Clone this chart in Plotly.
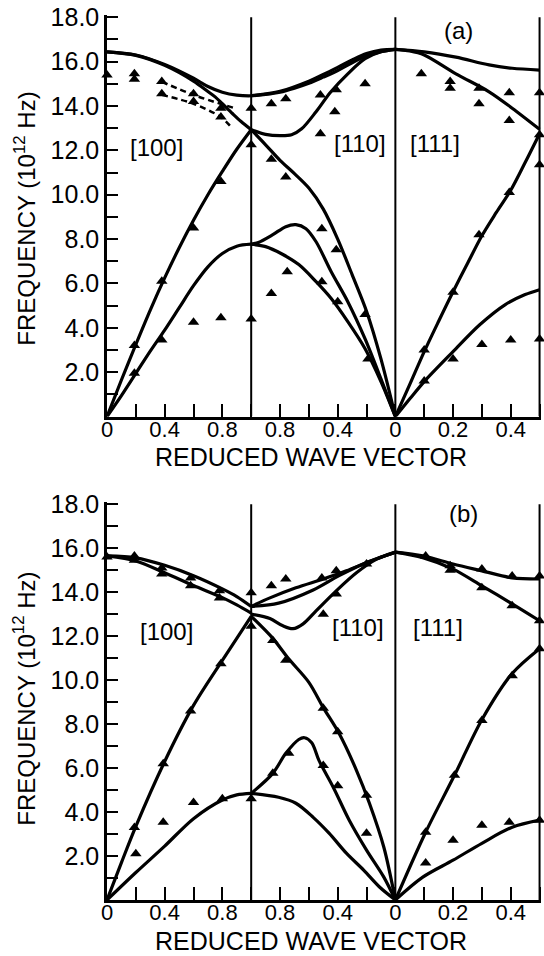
import plotly.graph_objects as go

# Path coordinate along the x axis:
#   0..1 : [100]  (reduced q = x)
#   1..2 : [110]  (reduced q = 2 - x)
#   2..3 : [111]  (reduced q = (x - 2) / 2)

# ---------------- panel (a) : calculated curves ----------------
a_to_x = [0, 0.2, 0.4, 0.6, 0.7, 0.8, 0.9, 1.0, 1.1, 1.2, 1.3, 1.4, 1.5, 1.6, 1.7, 1.8, 1.9, 2.0]
a_to_y = [16.44, 16.3, 15.87, 15.25, 14.88, 14.62, 14.49, 14.46, 14.52, 14.62, 14.8, 15.02, 15.3, 15.6, 15.95, 16.25, 16.45, 16.55]
a_to2_x = [1.0, 1.2, 1.4, 1.5, 1.6, 1.7, 1.8, 1.9, 2.0]
a_to2_y = [14.46, 14.66, 15.12, 15.42, 15.74, 16.07, 16.36, 16.52, 16.55]
a_lo100_x = [0, 0.2, 0.4, 0.6, 0.7, 0.75, 0.8, 0.87, 0.93, 1.0]
a_lo100_y = [16.44, 16.28, 15.83, 15.12, 14.65, 14.41, 14.1, 13.66, 13.3, 12.93]
a_lo110_x = [1.0, 1.1, 1.2, 1.28, 1.35, 1.45, 1.55, 1.67, 1.79, 1.9, 2.0]
a_lo110_y = [12.93, 12.72, 12.66, 12.7, 12.97, 13.74, 14.62, 15.45, 16.13, 16.44, 16.55]
a_la100_x = [0, 0.1, 0.2, 0.3, 0.4, 0.5, 0.6, 0.7, 0.8, 0.9, 1.0]
a_la100_y = [0, 1.65, 3.25, 4.8, 6.25, 7.6, 8.85, 10.0, 11.05, 12.05, 12.93]
a_la110_x = [1.0, 1.1, 1.2, 1.3, 1.4, 1.5, 1.6, 1.7, 1.8, 1.9, 2.0]
a_la110_y = [12.93, 12.25, 11.55, 10.95, 10.3, 9.35, 8.0, 6.4, 4.75, 2.6, 0]
a_ta100_x = [0, 0.1, 0.2, 0.3, 0.4, 0.5, 0.6, 0.7, 0.8, 0.9, 1.0]
a_ta100_y = [0, 0.95, 1.95, 2.95, 3.9, 4.9, 5.9, 6.75, 7.35, 7.68, 7.77]
a_ta2_x = [1.0, 1.05, 1.15, 1.24, 1.31, 1.38, 1.45, 1.555, 1.67, 1.79, 1.9, 2.0]
a_ta2_y = [7.77, 7.85, 8.2, 8.56, 8.65, 8.47, 7.88, 6.53, 5.18, 3.5, 1.7, 0]
a_ta1_x = [1.0, 1.1, 1.21, 1.33, 1.45, 1.555, 1.67, 1.79, 1.9, 2.0]
a_ta1_y = [7.77, 7.66, 7.34, 6.85, 6.08, 5.32, 4.28, 3.06, 1.58, 0]
a_to111_x = [2.0, 2.2, 2.42, 2.65, 2.81, 3.0]
a_to111_y = [16.55, 16.44, 16.2, 15.85, 15.7, 15.62]
a_lo111_x = [2.0, 2.1, 2.2, 2.42, 2.65, 2.81, 3.0]
a_lo111_y = [16.55, 16.48, 16.3, 15.45, 14.64, 13.9, 12.95]
a_la111_x = [2.0, 2.1, 2.2, 2.3, 2.4, 2.5, 2.6, 2.7, 2.8, 2.9, 3.0]
a_la111_y = [0, 1.45, 2.93, 4.3, 5.63, 6.9, 8.15, 9.2, 10.2, 11.45, 12.75]
a_ta111_x = [2.0, 2.1, 2.2, 2.4, 2.585, 2.76, 2.9, 3.0]
a_ta111_y = [0, 0.8, 1.58, 2.93, 4.14, 5.04, 5.5, 5.72]
# dashed lines
a_dash1_x = [0.38, 0.6, 0.9]
a_dash1_y = [15.09, 14.5, 13.87]
a_dash2_x = [0.38, 0.6, 0.79, 0.86]
a_dash2_y = [14.5, 14.1, 13.5, 13.06]

# ---------------- panel (a) : measured points ----------------
a_pts_x = [0, 0.19, 0.19, 0.38, 0.38, 0.6, 0.6, 0.79, 0.79, 1.0, 1.0,
           0.19, 0.38, 0.6, 0.79, 0.19, 0.38, 0.6, 0.79, 1.0,
           1.14, 1.24, 1.48, 1.58, 1.59, 1.79, 1.48, 1.14, 1.24,
           1.14, 1.25, 1.49, 1.59, 1.49, 1.6, 1.79, 1.81,
           2.18, 2.38, 2.38, 2.58, 2.58, 2.79, 2.79, 3.0, 3.0, 3.0,
           2.79, 2.58, 2.4, 2.2, 2.2, 2.4, 2.6, 2.8, 3.0]
a_pts_y = [15.4, 15.45, 15.2, 15.1, 14.55, 14.55, 14.2, 13.9, 13.5, 13.9, 12.25,
           3.2, 6.1, 8.5, 10.6, 1.95, 3.45, 4.25, 4.45, 4.4,
           14.1, 14.32, 14.5, 13.74, 14.73, 15.0, 12.75, 11.6, 10.8,
           5.55, 6.53, 8.47, 7.52, 6.08, 5.18, 4.6, 2.6,
           15.45, 15.1, 14.8, 14.8, 14.1, 14.6, 13.35, 14.6, 12.7, 11.35,
           10.1, 8.2, 5.6, 3.0, 1.6, 2.6, 3.25, 3.45, 3.5]

# ---------------- panel (b) : calculated curves ----------------
b_to100_x = [0, 0.2, 0.4, 0.6, 0.8, 0.9, 1.0]
b_to100_y = [15.65, 15.56, 15.22, 14.75, 14.15, 13.8, 13.35]
b_lo100_x = [0, 0.2, 0.4, 0.6, 0.8, 0.9, 1.0]
b_lo100_y = [15.65, 15.42, 14.88, 14.3, 13.75, 13.42, 13.05]
b_la100_x = [0, 0.1, 0.2, 0.4, 0.6, 0.8, 1.0]
b_la100_y = [0, 1.7, 3.35, 6.3, 8.85, 10.9, 12.9]
b_ta100_x = [0, 0.2, 0.4, 0.6, 0.8, 0.9, 1.0]
b_ta100_y = [0, 1.25, 2.45, 3.7, 4.55, 4.78, 4.85]
b_to110a_x = [1.0, 1.13, 1.31, 1.5, 1.66, 1.82, 2.0]
b_to110a_y = [13.35, 13.74, 14.2, 14.6, 14.97, 15.4, 15.82]
b_to110b_x = [1.0, 1.19, 1.43, 1.61, 1.8, 2.0]
b_to110b_y = [13.35, 13.5, 14.1, 14.75, 15.35, 15.82]
b_lo110_x = [1.0, 1.13, 1.22, 1.29, 1.36, 1.45, 1.59, 1.73, 1.87, 2.0]
b_lo110_y = [13.0, 12.8, 12.47, 12.34, 12.56, 13.15, 14.06, 14.88, 15.5, 15.82]
b_la110_x = [1.0, 1.15, 1.26, 1.4, 1.5, 1.61, 1.73, 1.82, 1.92, 2.0]
b_la110_y = [12.9, 11.9, 10.97, 9.9, 8.75, 7.57, 5.9, 4.4, 2.4, 0]
b_ta2_x = [1.0, 1.15, 1.24, 1.33, 1.37, 1.42, 1.47, 1.57, 1.68, 1.8, 1.92, 2.0]
b_ta2_y = [4.85, 5.76, 6.67, 7.3, 7.38, 7.15, 6.35, 5.12, 3.63, 2.27, 1.04, 0]
b_ta1_x = [1.0, 1.19, 1.31, 1.43, 1.54, 1.66, 1.78, 1.89, 2.0]
b_ta1_y = [4.85, 4.67, 4.4, 3.76, 3.04, 2.13, 1.36, 0.59, 0]
b_to111_x = [2.0, 2.19, 2.4, 2.6, 2.81, 3.0]
b_to111_y = [15.82, 15.65, 15.28, 14.97, 14.65, 14.6]
b_lo111_x = [2.0, 2.19, 2.4, 2.6, 2.81, 3.0]
b_lo111_y = [15.82, 15.57, 15.05, 14.29, 13.47, 12.7]
b_la111_x = [2.0, 2.21, 2.41, 2.6, 2.81, 3.0]
b_la111_y = [0, 3.08, 5.67, 8.2, 10.3, 11.43]
b_ta111_x = [2.0, 2.19, 2.4, 2.6, 2.81, 3.0]
b_ta111_y = [0, 1.04, 1.81, 2.58, 3.31, 3.63]

# ---------------- panel (b) : measured points ----------------
b_pts_x = [0, 0.19, 0.19, 0.38, 0.38, 0.58, 0.58, 0.78, 0.78, 1.0, 1.0,
           0.19, 0.39, 0.58, 0.79, 0.2, 0.39, 0.6, 0.8, 1.0,
           1.14, 1.24, 1.49, 1.59, 1.8, 1.59, 1.5, 1.15, 1.24, 1.5, 1.6,
           1.15, 1.26, 1.5, 1.6, 1.8, 1.8,
           2.21, 2.38, 2.38, 2.6, 2.6, 2.81, 2.81, 3.0, 3.0, 3.0,
           2.81, 2.6, 2.41, 2.21, 2.21, 2.4, 2.6, 2.79, 3.0]
b_pts_y = [15.6, 15.65, 15.45, 15.1, 14.83, 14.65, 14.29, 14.06, 13.74, 13.97, 12.45,
           3.3, 6.2, 8.6, 10.75, 2.1, 3.54, 4.43, 4.6, 4.6,
           14.29, 14.6, 14.65, 14.97, 15.28, 13.92, 13.0, 11.8, 10.9, 8.72, 7.65,
           5.76, 6.67, 6.12, 5.2, 4.76, 3.04,
           15.65, 15.2, 15.0, 15.05, 14.2, 14.74, 13.38, 14.74, 12.7, 11.43,
           10.2, 8.16, 5.67, 3.08, 1.68, 2.72, 3.4, 3.54, 3.63]

# ---------------- axes text ----------------
x_tickvals = [0.0, 0.4, 0.8, 1.2, 1.6, 2.0, 2.4, 2.8]
x_ticktext = ["0", "0.4", "0.8", "0.8", "0.4", "0", "0.2", "0.4"]
y_tickvals = [2, 4, 6, 8, 10, 12, 14, 16, 18]
y_ticktext = [f"{v:.1f}" for v in y_tickvals]
dir_labels = ["[100]", "[110]", "[111]"]

FONT = "Liberation Sans"
fig = go.Figure()

def curve(xs, ys, xa, ya, dash="solid", width=3.2):
    fig.add_trace(go.Scatter(x=xs, y=ys, mode="lines", xaxis=xa, yaxis=ya,
                             line=dict(color="black", width=width, dash=dash,
                                       shape="spline", smoothing=0.9),
                             showlegend=False, hoverinfo="skip"))

def points(xs, ys, xa, ya):
    fig.add_trace(go.Scatter(x=xs, y=ys, mode="markers", xaxis=xa, yaxis=ya,
                             marker=dict(symbol="triangle-up", size=10, color="black"),
                             cliponaxis=False, showlegend=False, hoverinfo="skip"))

for xs, ys in [(a_to_x, a_to_y), (a_to2_x, a_to2_y), (a_lo100_x, a_lo100_y),
               (a_lo110_x, a_lo110_y), (a_la100_x, a_la100_y), (a_la110_x, a_la110_y),
               (a_ta100_x, a_ta100_y), (a_ta2_x, a_ta2_y), (a_ta1_x, a_ta1_y),
               (a_to111_x, a_to111_y), (a_lo111_x, a_lo111_y), (a_la111_x, a_la111_y),
               (a_ta111_x, a_ta111_y)]:
    curve(xs, ys, "x", "y")
curve(a_dash1_x, a_dash1_y, "x", "y", dash="6px,4px", width=2.5)
curve(a_dash2_x, a_dash2_y, "x", "y", dash="6px,4px", width=2.5)
points(a_pts_x, a_pts_y, "x", "y")

for xs, ys in [(b_to100_x, b_to100_y), (b_lo100_x, b_lo100_y), (b_la100_x, b_la100_y),
               (b_ta100_x, b_ta100_y), (b_to110a_x, b_to110a_y), (b_to110b_x, b_to110b_y),
               (b_lo110_x, b_lo110_y), (b_la110_x, b_la110_y), (b_ta2_x, b_ta2_y),
               (b_ta1_x, b_ta1_y), (b_to111_x, b_to111_y), (b_lo111_x, b_lo111_y),
               (b_la111_x, b_la111_y), (b_ta111_x, b_ta111_y)]:
    curve(xs, ys, "x2", "y2")
points(b_pts_x, b_pts_y, "x2", "y2")

# vertical boundary lines (X, Gamma, L)
for xr, yr in [("x", "y"), ("x2", "y2")]:
    for xv in [1, 2, 3]:
        fig.add_shape(type="line", xref=xr, yref=yr, x0=xv, x1=xv, y0=0, y1=18,
                      line=dict(color="black", width=2))

xaxis_common = dict(range=[0, 3.01], tickvals=x_tickvals, ticktext=x_ticktext,
                    ticks="inside", ticklen=13, tickwidth=2, tickcolor="black",
                    minor=dict(ticks="inside", tick0=0, dtick=0.2, ticklen=13,
                               tickwidth=2, tickcolor="black", showgrid=False),
                    showline=True, linewidth=2.5, linecolor="black",
                    showgrid=False, zeroline=False, ticklabelstandoff=-9,
                    tickfont=dict(family=FONT, size=22, color="black"))
yaxis_common = dict(range=[0, 18.1], tickvals=y_tickvals, ticktext=y_ticktext,
                    ticks="inside", ticklen=11, tickwidth=2, tickcolor="black",
                    minor=dict(ticks="inside", tick0=0, dtick=1, ticklen=11,
                               tickwidth=2, tickcolor="black", showgrid=False),
                    showline=True, linewidth=2.5, linecolor="black",
                    showgrid=False, zeroline=False,
                    tickfont=dict(family=FONT, size=25, color="black"))

fig.update_layout(
    width=544, height=956,
    margin=dict(l=107, r=3, t=12, b=56),
    paper_bgcolor="white", plot_bgcolor="white",
    xaxis=dict(domain=[0, 1], anchor="y", **xaxis_common),
    yaxis=dict(domain=[0.5462, 1.0], anchor="x", **yaxis_common),
    xaxis2=dict(domain=[0, 1], anchor="y2", **xaxis_common),
    yaxis2=dict(domain=[0, 0.4497], anchor="x2", **yaxis_common),
)

ann = []
lab_font = dict(family=FONT, size=24, color="black")
for xr, yr, pos, tag in [("x", "y", [(0.34, 12.15), (1.755, 12.29), (2.275, 12.29)], ("(a)", 2.44, 17.42)),
                         ("x2", "y2", [(0.41, 12.19), (1.74, 12.38), (2.296, 12.38)], ("(b)", 2.47, 17.59))]:
    for txt, (px, py) in zip(dir_labels, pos):
        ann.append(dict(x=px, y=py, xref=xr, yref=yr, text=txt, showarrow=False,
                        xanchor="center", yanchor="middle", font=lab_font))
    ann.append(dict(x=tag[1], y=tag[2], xref=xr, yref=yr, text=tag[0], showarrow=False,
                    xanchor="center", yanchor="middle", font=lab_font))

for yp in [0.770, 0.2275]:
    ann.append(dict(x=-0.191, y=yp, xref="paper", yref="paper", textangle=-90,
                    xanchor="center", yanchor="middle",
                    text="FREQUENCY (10<sup>12</sup> Hz)", showarrow=False,
                    font=dict(family=FONT, size=24, color="black")))
for yp in [0.501, -0.0465]:
    ann.append(dict(x=0.47, y=yp, xref="paper", yref="paper",
                    xanchor="center", yanchor="middle",
                    text="REDUCED WAVE VECTOR", showarrow=False,
                    font=dict(family=FONT, size=25, color="black")))
fig.update_layout(annotations=ann)

fig.write_html("out.html", config={"displayModeBar": False},
               post_script="document.body.style.margin='0';document.body.style.padding='0';"
                           "document.documentElement.style.overflow='hidden';")
